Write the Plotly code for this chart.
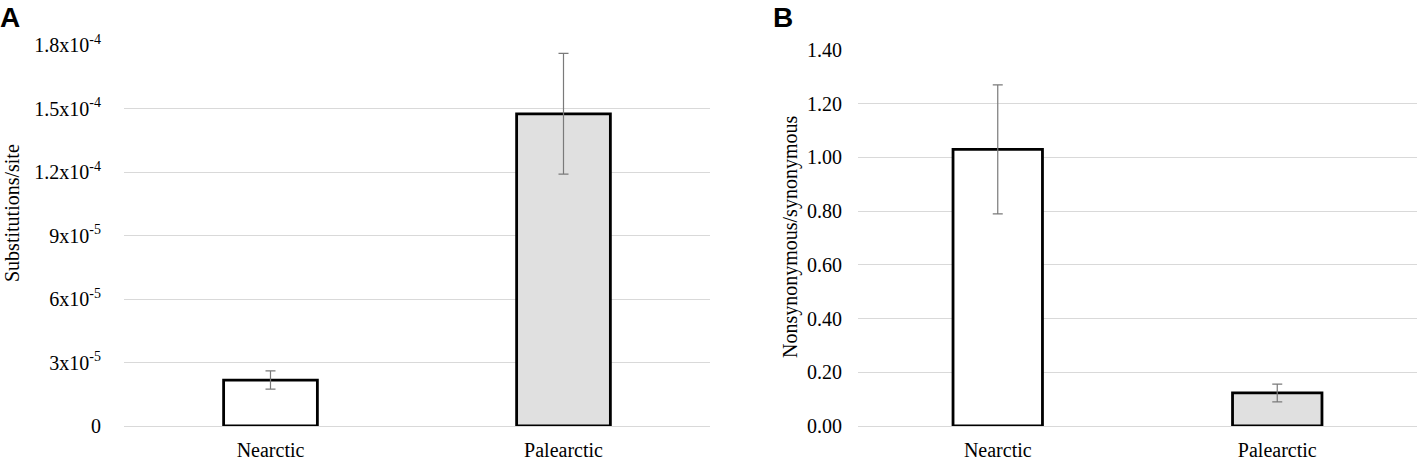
import plotly.graph_objects as go

categories = ["Nearctic", "Palearctic"]
subst_values = [2.17e-5, 1.475e-4]
subst_errors = [0.43e-5, 2.85e-5]
ratio_values = [1.03, 0.123]
ratio_errors = [0.24, 0.033]
subst_tickvals = [0, 3e-5, 6e-5, 9e-5, 1.2e-4, 1.5e-4, 1.8e-4]
subst_ticktext = ["0", "3x10<sup>-5</sup>", "6x10<sup>-5</sup>", "9x10<sup>-5</sup>",
                  "1.2x10<sup>-4</sup>", "1.5x10<sup>-4</sup>", "1.8x10<sup>-4</sup>"]
ratio_tickvals = [0, 0.2, 0.4, 0.6, 0.8, 1.0, 1.2, 1.4]
ratio_ticktext = ["0.00", "0.20", "0.40", "0.60", "0.80", "1.00", "1.20", "1.40"]
fills = ["#ffffff", "#e0e0e0"]

W, H = 1417, 462
FONT = "Liberation Serif"

fig = go.Figure()
err_style = dict(type="data", color="#7a7a7a", thickness=1.2, width=5)

fig.add_trace(go.Bar(
    x=categories, y=subst_values, width=0.32,
    marker=dict(color=fills, line=dict(color="#000000", width=2.8)),
    error_y=dict(array=subst_errors, **err_style),
    xaxis="x", yaxis="y", showlegend=False,
))
fig.add_trace(go.Bar(
    x=categories, y=ratio_values, width=0.32,
    marker=dict(color=fills, line=dict(color="#000000", width=2.8)),
    error_y=dict(array=ratio_errors, **err_style),
    xaxis="x2", yaxis="y2", showlegend=False,
))

xA = [124 / W, 710 / W]
xB = [858 / W, 1.0]
yA = [(H - 426) / H, (H - 45) / H]
yB = [(H - 426) / H, (H - 50) / H]

grid = "#d9d9d9"
common_x = dict(showgrid=False, showline=False, zeroline=False, range=[-0.5, 1.5],
                ticks="outside", ticklen=6, tickcolor="rgba(0,0,0,0)",
                tickfont=dict(family=FONT, size=20, color="#000"), automargin=False)
common_y = dict(showgrid=True, gridcolor=grid, gridwidth=1, zeroline=True,
                zerolinecolor=grid, zerolinewidth=1, showline=False, ticks="",
                tickfont=dict(family=FONT, size=20, color="#000"), automargin=False)

fig.update_layout(
    width=W, height=H,
    margin=dict(l=0, r=0, t=0, b=0),
    paper_bgcolor="#ffffff", plot_bgcolor="#ffffff",
    xaxis=dict(domain=xA, anchor="y", **common_x),
    yaxis=dict(domain=yA, anchor="x", range=[0, 1.8e-4], tickmode="array",
               tickvals=subst_tickvals, ticktext=subst_ticktext,
               ticklabelstandoff=22, **common_y),
    xaxis2=dict(domain=xB, anchor="y2", **common_x),
    yaxis2=dict(domain=yB, anchor="x2", range=[0, 1.4], tickmode="array",
                tickvals=ratio_tickvals, ticktext=ratio_ticktext,
                ticklabelstandoff=15, **common_y),
    annotations=[
        dict(text="<b>A</b>", x=0, y=1.0, xref="paper", yref="paper", xanchor="left",
             yanchor="top", showarrow=False, font=dict(family="Liberation Sans", size=28, color="#000"),
             xshift=-2, yshift=0),
        dict(text="<b>B</b>", x=771 / W, y=1.0, xref="paper", yref="paper", xanchor="left",
             yanchor="top", showarrow=False, font=dict(family="Liberation Sans", size=28, color="#000"),
             yshift=0),
        dict(text="Substitutions/site", x=12 / W, y=(H - 213) / H, xref="paper",
             yref="paper", textangle=-90, showarrow=False, xanchor="center", yanchor="middle",
             font=dict(family=FONT, size=20, color="#000")),
        dict(text="Nonsynonymous/synonymous", x=790 / W, y=(H - 237) / H, xref="paper",
             yref="paper", textangle=-90, showarrow=False, xanchor="center", yanchor="middle",
             font=dict(family=FONT, size=20, color="#000")),
    ],
)

fig.write_html("out.html", config={"displayModeBar": False},
               post_script="document.body.style.margin='0';document.body.style.overflow='hidden';")
